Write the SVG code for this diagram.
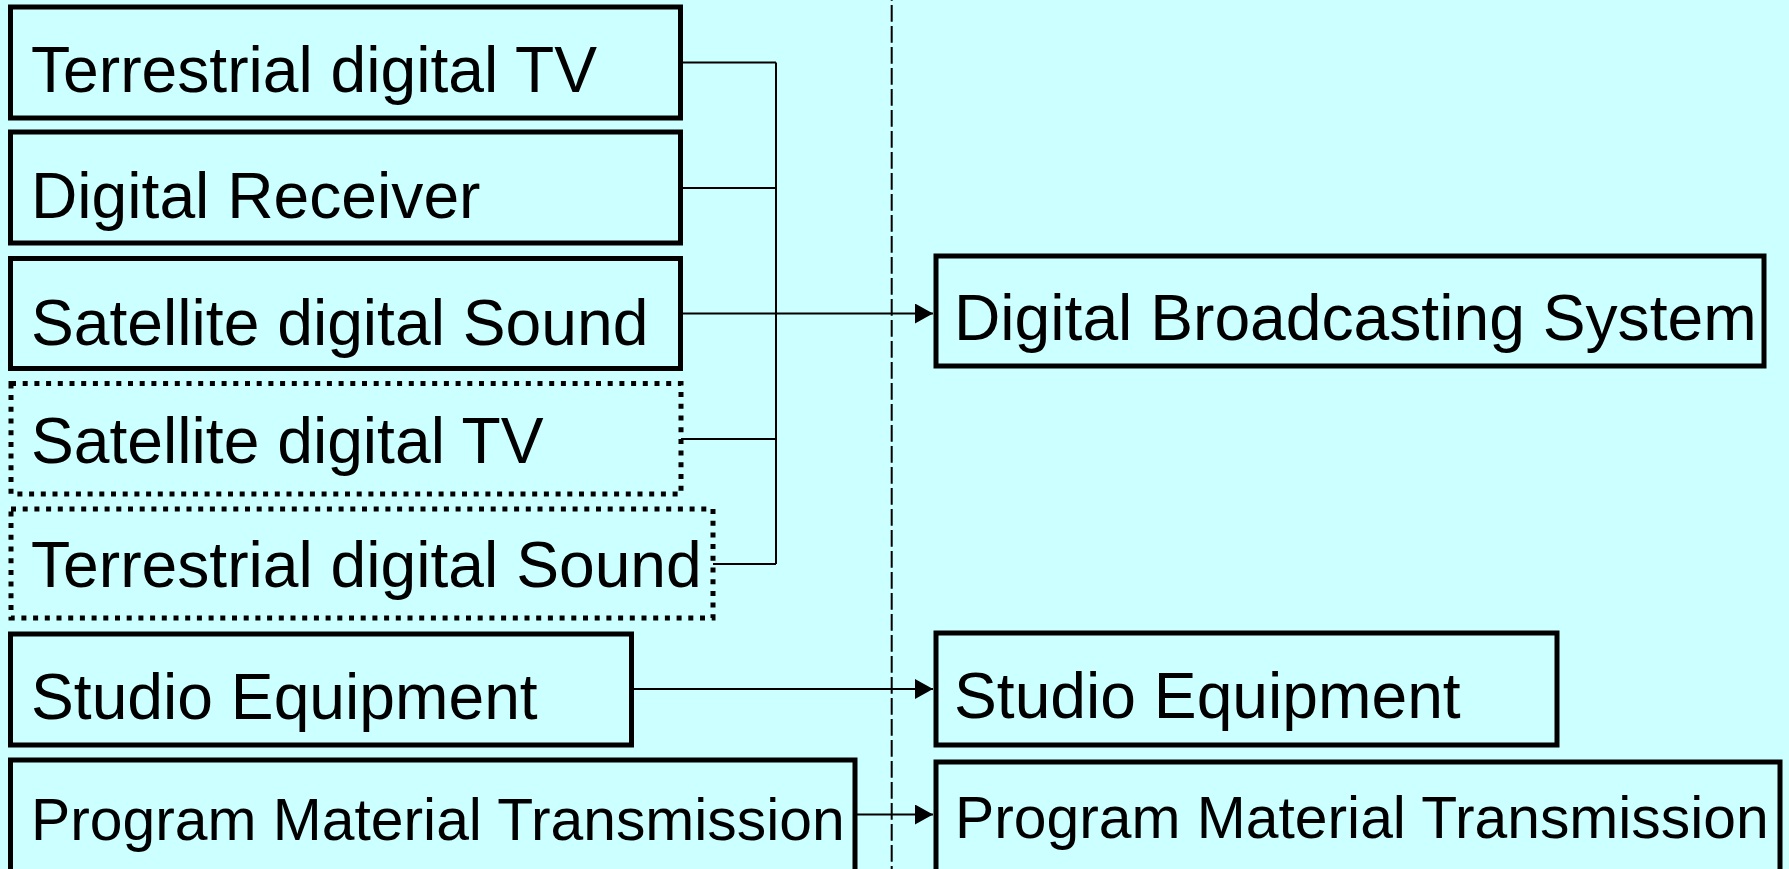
<svg xmlns="http://www.w3.org/2000/svg" width="1789" height="869" viewBox="0 0 1789 869">
  <style>
    .box { fill: #CCFFFF; stroke: #000; stroke-width: 5; }
    .dotted { fill: #CCFFFF; stroke: #000; stroke-width: 5; stroke-dasharray: 5 6.7; }
    .lbl { font-family: "Liberation Sans", Arial, sans-serif; font-size: 64.2px; fill: #000; }
    .lbl.small { font-size: 58.8px; }
    .wire { fill: none; stroke: #000; stroke-width: 2; }
    .divider { stroke: #000; stroke-width: 2; stroke-dasharray: 16.7 4.3; stroke-dashoffset: 16; }
  </style>
  <defs>
    <marker id="arrow" markerUnits="userSpaceOnUse" markerWidth="18" markerHeight="20" refX="18" refY="10" orient="auto">
      <path d="M0,0 L18,10 L0,20 Z" fill="#000"/>
    </marker>
  </defs>

  <rect x="0" y="0" width="1789" height="869" fill="#CCFFFF"/>

  <!-- boundary between the two sides -->
  <line class="divider" x1="891.7" y1="0" x2="891.7" y2="869"/>

  <!-- left column -->
  <g id="terrestrial-tv">
    <rect class="box" x="10.5" y="7" width="670" height="111"/>
    <text class="lbl" x="31" y="92">Terrestrial digital TV</text>
  </g>
  <g id="digital-receiver">
    <rect class="box" x="10.5" y="132" width="670" height="111"/>
    <text class="lbl" x="31" y="218">Digital Receiver</text>
  </g>
  <g id="satellite-sound">
    <rect class="box" x="10.5" y="258.5" width="670" height="110"/>
    <text class="lbl" x="31" y="345">Satellite digital Sound</text>
  </g>
  <g id="satellite-tv">
    <rect class="dotted" x="11" y="383.5" width="670" height="110.5"/>
    <text class="lbl" x="31" y="463">Satellite digital TV</text>
  </g>
  <g id="terrestrial-sound">
    <rect class="dotted" x="11" y="509" width="702" height="109"/>
    <text class="lbl" x="31" y="587">Terrestrial digital Sound</text>
  </g>
  <g id="studio-left">
    <rect class="box" x="10.5" y="634" width="621" height="111"/>
    <text class="lbl" x="31" y="719">Studio Equipment</text>
  </g>
  <g id="pmt-left">
    <rect class="box" x="10.5" y="760" width="844.5" height="130"/>
    <text class="lbl small" x="31" y="840">Program Material Transmission</text>
  </g>

  <!-- right column -->
  <g id="broadcasting-system">
    <rect class="box" x="936" y="256" width="828" height="110"/>
    <text class="lbl" x="954" y="340">Digital Broadcasting System</text>
  </g>
  <g id="studio-right">
    <rect class="box" x="936" y="633" width="621" height="112"/>
    <text class="lbl" x="954" y="718">Studio Equipment</text>
  </g>
  <g id="pmt-right">
    <rect class="box" x="936" y="762" width="844" height="130"/>
    <text class="lbl small" x="955" y="838">Program Material Transmission</text>
  </g>

  <!-- connectors -->
  <g id="connectors">
    <path class="wire" d="M681,62.5 H776 M681,188 H776 M681,439 H776 M713,564 H776 M776,62.5 V564"/>
    <line class="wire" x1="681" y1="313.5" x2="933" y2="313.5" marker-end="url(#arrow)"/>
    <line class="wire" x1="631.5" y1="689" x2="933" y2="689" marker-end="url(#arrow)"/>
    <line class="wire" x1="855" y1="814.5" x2="933" y2="814.5" marker-end="url(#arrow)"/>
  </g>
</svg>
